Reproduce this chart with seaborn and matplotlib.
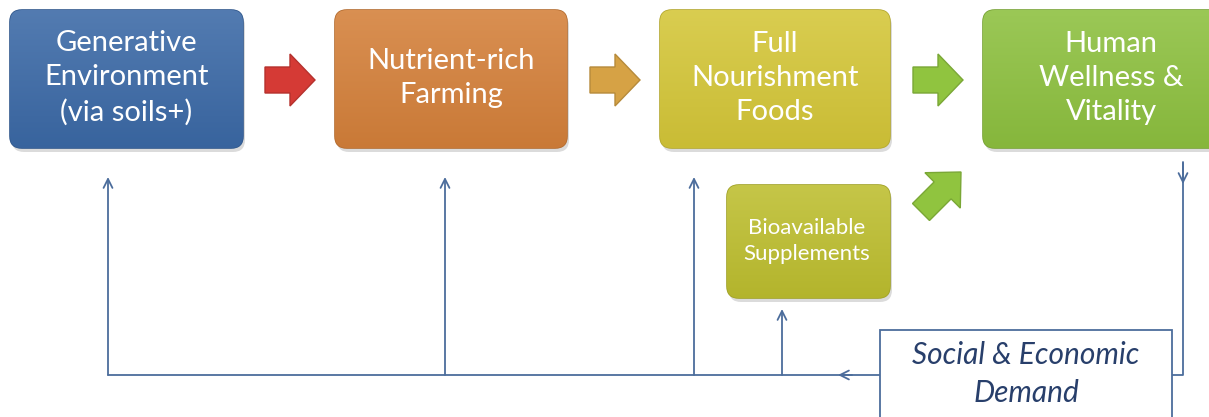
import numpy as np
import matplotlib
matplotlib.use("Agg")
import matplotlib.pyplot as plt
import matplotlib.colors as mcolors
from matplotlib.patches import FancyBboxPatch, FancyArrow, Rectangle
import seaborn as sns

sns.set_style("white")
plt.rcParams['font.family'] = ['Lato', 'DejaVu Sans']

# diagram content
main_labels = ["Generative\nEnvironment\n(via soils+)", "Nutrient-rich\nFarming",
               "Full\nNourishment\nFoods", "Human\nWellness &\nVitality"]
main_colors = ["#3b69a6", "#d4803a", "#d4c638", "#8dc03f"]
main_x = [10, 335, 660, 983]
main_w = [233, 232, 230, 240]

supp_label = "Bioavailable\nSupplements"
supp_color = "#bdbe2f"
demand_label = "Social & Economic\nDemand"

arrow_colors = ["#d53a35", "#d6a245", "#90c43f"]
arrow_x = [265, 590, 913]

feedback_x = [108, 445, 694]
line_color = "#4c6d9c"


def shade(c, f):
    rgb = np.array(mcolors.to_rgb(c))
    if f > 0:
        return rgb + (1 - rgb) * f
    return rgb * (1 + f)


def gbox(ax, x, y, w, h, color, r=12):
    # soft shadow
    sh = FancyBboxPatch((x + 2, y + 4), w, h, boxstyle=f"round,pad=0,rounding_size={r}",
                        fc="#999999", ec="none", alpha=0.35, zorder=1)
    ax.add_patch(sh)
    p = FancyBboxPatch((x, y), w, h, boxstyle=f"round,pad=0,rounding_size={r}",
                       fc=color, ec=shade(color, -0.15), lw=1.2, zorder=2)
    ax.add_patch(p)
    n = 64
    t = np.linspace(0, 1, n)[:, None]
    top, bot = shade(color, 0.12), shade(color, -0.05)
    grad = top[None, None, :] * (1 - t[:, :, None]) + bot[None, None, :] * t[:, :, None]
    im = ax.imshow(grad, extent=[x, x + w, y + h, y], origin="upper",
                   aspect="auto", zorder=3, interpolation="bilinear")
    im.set_clip_path(p)


def thin_arrow(ax, x0, y0, x1, y1):
    ax.annotate("", xy=(x1, y1), xytext=(x0, y0),
                arrowprops=dict(arrowstyle="->", color=line_color, lw=1.3,
                                mutation_scale=16, shrinkA=0, shrinkB=0), zorder=4)


fig = plt.figure(figsize=(12.09, 4.17), dpi=100)
ax = fig.add_axes([0, 0, 1, 1])
ax.set_xlim(0, 1209)
ax.set_ylim(417, 0)
ax.axis("off")

for lab, c, x, w in zip(main_labels, main_colors, main_x, main_w):
    gbox(ax, x, 10, w, 138, c)
    ax.text(x + w / 2 if x < 900 else 1111, 78, lab, color="white", fontsize=21,
            ha="center", va="center", linespacing=1.38, zorder=5)

gbox(ax, 727, 185, 163, 113, supp_color)
ax.text(807, 241, supp_label, color="white", fontsize=16, ha="center",
        va="center", linespacing=1.35, zorder=5)

for c, x in zip(arrow_colors, arrow_x):
    ax.add_patch(FancyArrow(x, 80, 50, 0, width=26, head_width=52, head_length=25,
                            length_includes_head=True, fc=c, ec=shade(c, -0.15),
                            lw=1, zorder=3))
# diagonal arrow from supplements
ax.add_patch(FancyArrow(921, 212, 40, -40, width=24, head_width=50, head_length=26,
                        length_includes_head=True, fc=arrow_colors[2],
                        ec=shade(arrow_colors[2], -0.15), lw=1, zorder=3))

# feedback lines
ax.plot([108, 880], [375, 375], color=line_color, lw=1.3, zorder=4)
for fx in feedback_x:
    thin_arrow(ax, fx, 375, fx, 177)
thin_arrow(ax, 782, 375, 782, 309)
thin_arrow(ax, 852, 375, 838, 375)
ax.plot([1183, 1183, 1172], [162, 375, 375], color=line_color, lw=1.3, zorder=4)
thin_arrow(ax, 1183, 163, 1183, 184)

ax.add_patch(Rectangle((880, 330), 292, 100, fc="white", ec=line_color, lw=1.3, zorder=4))
ax.text(1026, 374, demand_label, color="#283f6b", fontsize=21.5, style="italic",
        ha="center", va="center", linespacing=1.45, zorder=5)

fig.savefig("out.png", dpi=100)
